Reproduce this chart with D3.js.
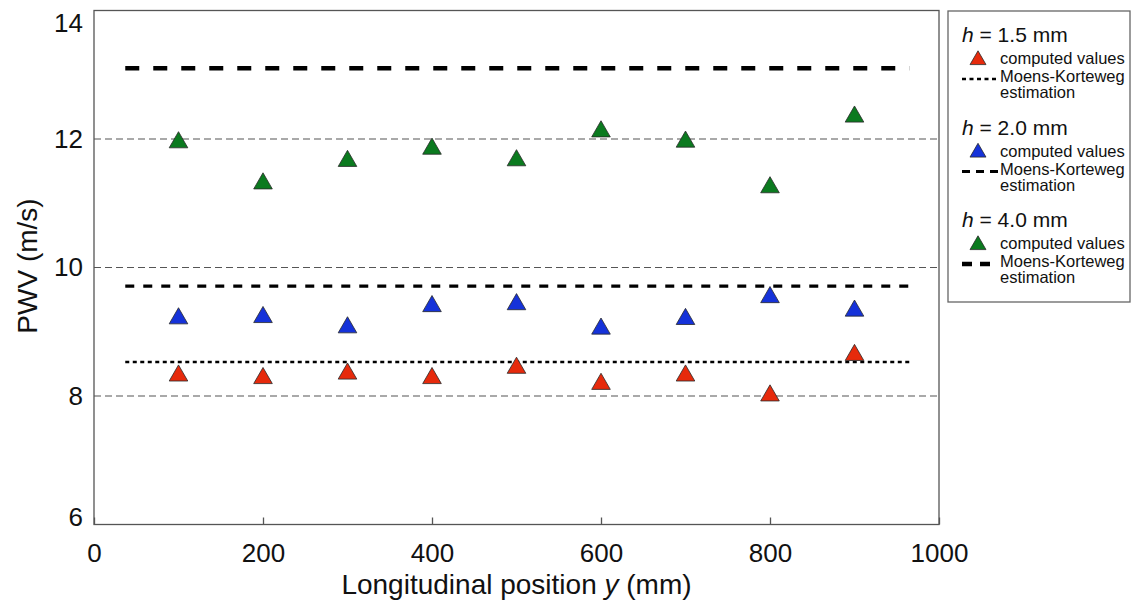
<!DOCTYPE html>
<html>
<head>
<meta charset="utf-8">
<script src="https://cdn.jsdelivr.net/npm/d3@7"></script>
<style>
  body { margin: 0; background: #fff; }
  text { font-family: "Liberation Sans", Arial, Helvetica, sans-serif; fill: #111; }
</style>
</head>
<body>
<div id="chart"></div>
<script>
const positions = [100, 200, 300, 400, 500, 600, 700, 800, 900];
const pwv15 = [8.34, 8.30, 8.37, 8.30, 8.46, 8.21, 8.34, 8.03, 8.66];
const pwv20 = [9.23, 9.25, 9.09, 9.42, 9.45, 9.07, 9.22, 9.56, 9.35];
const pwv40 = [11.97, 11.33, 11.68, 11.87, 11.69, 12.14, 11.98, 11.27, 12.37];
const mkEstimates = [8.53, 9.71, 13.10];
const mkRange = [37, 965];
const thicknesses = ["1.5", "2.0", "4.0"];
const xTicks = [0, 200, 400, 600, 800, 1000];
const yTicks = [6, 8, 10, 12, 14];
const gridValues = [8, 10, 12];

const colors = ["#e62a0c", "#1532d9", "#0b7a1f"];
const mkStyles = [
  {width: 2.5, dash: "4,3.5"},
  {width: 3.2, dash: "9,9"},
  {width: 4.5, dash: "14,14"}
];

const margin = {top: 10.5, left: 94};
const width = 845;
const height = 514;

const svg = d3.select("#chart")
  .append("svg")
  .attr("width", 1135)
  .attr("height", 601);

const g = svg.append("g")
  .attr("transform", `translate(${margin.left},${margin.top})`);

const x = d3.scaleLinear().domain([0, 1000]).range([0, width]);
const y = d3.scaleLinear().domain([6, 14]).range([height, 0]);

// dashed grid lines
g.selectAll(".grid")
  .data(gridValues)
  .enter()
  .append("line")
  .attr("x1", 0)
  .attr("x2", width)
  .attr("y1", d => y(d))
  .attr("y2", d => y(d))
  .attr("stroke", "#555")
  .attr("stroke-width", 1.2)
  .attr("stroke-dasharray", "7,4");

// Moens-Korteweg estimates
g.selectAll(".mk")
  .data(mkEstimates)
  .enter()
  .append("line")
  .attr("x1", x(mkRange[0]))
  .attr("x2", x(mkRange[1]))
  .attr("y1", d => y(d))
  .attr("y2", d => y(d))
  .attr("stroke", "#000")
  .attr("stroke-width", (d, i) => mkStyles[i].width)
  .attr("stroke-dasharray", (d, i) => mkStyles[i].dash);

const tri = d3.symbol().type(d3.symbolTriangle).size(150);

[pwv15, pwv20, pwv40].forEach((vals, i) => {
  g.selectAll(".pt" + i)
    .data(vals)
    .enter()
    .append("path")
    .attr("d", tri)
    .attr("transform", (d, j) => `translate(${x(positions[j])},${y(d) + 1.5})`)
    .attr("fill", colors[i])
    .attr("stroke", "#2a2a2a")
    .attr("stroke-width", 0.8);
});

// axes
const xAxis = g.append("g")
  .attr("transform", `translate(0,${height})`)
  .call(d3.axisBottom(x).tickValues(xTicks).tickFormat(d3.format("d"))
    .tickSizeInner(-7).tickSizeOuter(0).tickPadding(19));
xAxis.select(".domain").remove();
xAxis.selectAll("line").attr("stroke", "#555").attr("stroke-width", 1.3);
xAxis.selectAll("text").style("font-size", "26px");

const yAxis = g.append("g")
  .call(d3.axisLeft(y).tickValues(yTicks).tickSize(0).tickPadding(11));
yAxis.select(".domain").remove();
yAxis.selectAll("text")
  .style("font-size", "26px")
  .attr("dy", d => d === 14 ? "0.8em" : d === 6 ? "0.05em" : "0.32em");

// plot frame
g.append("rect")
  .attr("width", width)
  .attr("height", height)
  .attr("fill", "none")
  .attr("stroke", "#555")
  .attr("stroke-width", 1.3);

svg.append("text")
  .attr("x", margin.left + width / 2)
  .attr("y", 594)
  .attr("text-anchor", "middle")
  .style("font-size", "28px")
  .html('Longitudinal position <tspan font-style="italic">y</tspan> (mm)');

svg.append("text")
  .attr("transform", "translate(37,266)rotate(-90)")
  .attr("text-anchor", "middle")
  .style("font-size", "28px")
  .text("PWV (m/s)");

// legend
const legend = svg.append("g").attr("transform", "translate(948,11)");
legend.append("rect")
  .attr("width", 182)
  .attr("height", 291)
  .attr("fill", "#fff")
  .attr("stroke", "#666")
  .attr("stroke-width", 1.3);

const items = legend.selectAll(".item")
  .data(thicknesses)
  .enter()
  .append("g")
  .attr("transform", (d, i) => `translate(0,${i * 92.5})`);

items.append("text")
  .attr("x", 14)
  .attr("y", 31)
  .style("font-size", "21px")
  .html(d => `<tspan font-style="italic">h</tspan> = ${d} mm`);

items.append("path")
  .attr("d", d3.symbol().type(d3.symbolTriangle).size(110))
  .attr("transform", "translate(30,49)")
  .attr("fill", (d, i) => colors[i])
  .attr("stroke", "#2a2a2a")
  .attr("stroke-width", 0.8);

items.append("text")
  .attr("x", 52)
  .attr("y", 53)
  .style("font-size", "16.5px")
  .text("computed values");

items.append("line")
  .attr("x1", 14)
  .attr("x2", 50)
  .attr("y1", 68)
  .attr("y2", 68)
  .attr("stroke", "#000")
  .attr("stroke-width", (d, i) => mkStyles[i].width)
  .attr("stroke-dasharray", (d, i) => i === 0 ? "4,3.5" : i === 1 ? "8,6" : "10,8");

items.append("text")
  .attr("x", 52)
  .attr("y", 71)
  .style("font-size", "16.5px")
  .text("Moens-Korteweg");

items.append("text")
  .attr("x", 52)
  .attr("y", 87)
  .style("font-size", "16.5px")
  .text("estimation");
</script>
</body>
</html>
